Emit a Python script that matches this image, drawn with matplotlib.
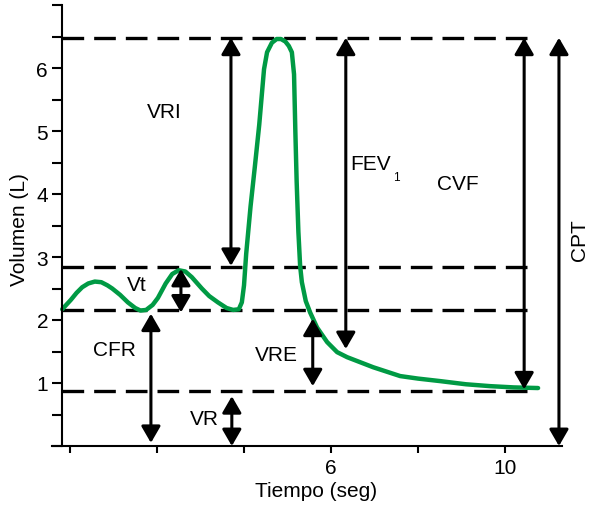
import numpy as np
import matplotlib
matplotlib.use("Agg")
import matplotlib.pyplot as plt

plt.rcParams['font.family'] = ['Liberation Sans Narrow', 'Liberation Sans', 'DejaVu Sans']

# spirometry trace (time in s, volume in L)
tiempo = [-0.18, 0.02, 0.15, 0.28, 0.42, 0.57, 0.72, 0.86, 0.97, 1.15, 1.33, 1.50,
          1.62, 1.75, 1.90, 2.02, 2.20, 2.35, 2.50, 2.65, 2.80, 3.03, 3.20, 3.40,
          3.60, 3.75, 3.88, 3.95, 4.00, 4.05, 4.15, 4.25, 4.35, 4.46, 4.53, 4.64,
          4.75, 4.85, 4.95, 5.03, 5.10, 5.15, 5.18, 5.21, 5.25, 5.29, 5.33, 5.42,
          5.52, 5.68, 5.91, 6.14, 6.37, 6.97, 7.59, 8.00, 8.51, 9.10, 9.66, 10.20,
          10.76]
volumen = [2.17, 2.32, 2.43, 2.52, 2.58, 2.61, 2.60, 2.55, 2.50, 2.40, 2.28, 2.19,
           2.15, 2.16, 2.24, 2.35, 2.58, 2.73, 2.79, 2.77, 2.68, 2.50, 2.38, 2.28,
           2.19, 2.16, 2.17, 2.28, 2.55, 3.05, 3.80, 4.44, 5.10, 5.98, 6.25, 6.40,
           6.46, 6.46, 6.42, 6.35, 6.25, 5.90, 5.00, 4.20, 3.40, 2.86, 2.60, 2.30,
           2.12, 1.88, 1.65, 1.49, 1.41, 1.25, 1.11, 1.07, 1.03, 0.98, 0.95, 0.93,
           0.92]

# dashed reference levels
niveles = [6.48, 2.84, 2.16, 0.87]

# double arrows: x position, bottom, top
flecha_x = [3.70, 2.55, 1.86, 3.72, 5.58, 6.34, 10.44, 11.24]
flecha_y0 = [2.86, 2.12, 0.05, 0.00, 0.95, 1.54, 0.90, 0.00]
flecha_y1 = [6.48, 2.81, 2.10, 0.79, 2.02, 6.48, 6.48, 6.48]

# labels and their centres
etiquetas = ['VRI', 'Vt', 'CFR', 'VR', 'VRE', 'CVF']
etiq_x = [2.16, 1.54, 1.01, 3.10, 4.74, 8.92]
etiq_y = [5.31, 2.56, 1.53, 0.43, 1.46, 4.17]

fig = plt.figure(figsize=(5.89, 5.06), dpi=100)
ax = fig.add_axes([52/589, 59/506, 510/589, 441/506])
ax.set_xlim(-0.414, 11.31)
ax.set_ylim(0, 7)

for lv in niveles:
    ax.plot([-0.18, 10.57], [lv, lv], color='black', lw=2.4,
            dashes=(6.5, 3), solid_capstyle='butt', dash_capstyle='butt')

ax.plot(tiempo, volumen, color='#009a44', lw=3.2, solid_joinstyle='round',
        solid_capstyle='round')

for x, y0, y1 in zip(flecha_x, flecha_y0, flecha_y1):
    ax.annotate('', xy=(x, y1), xytext=(x, y0), annotation_clip=False,
                arrowprops=dict(arrowstyle='<|-|>,head_length=1.0,head_width=0.58',
                                mutation_scale=10, color='black', lw=2.2,
                                shrinkA=0, shrinkB=0))

for s, x, y in zip(etiquetas, etiq_x, etiq_y):
    ax.text(x, y, s, fontsize=15, ha='center', va='center')
ax.text(6.45, 4.49, 'FEV', fontsize=15, ha='left', va='center')
ax.text(7.50, 4.27, '1', fontsize=8.5, ha='center', va='center')
ax.text(11.72, 3.29, 'CPT', fontsize=15, rotation=90, ha='center', va='center')

# axes styling
for s in ['top', 'right']:
    ax.spines[s].set_visible(False)
ax.spines['left'].set_position(('data', -0.184))
ax.spines['left'].set_linewidth(1.5)
ax.spines['bottom'].set_linewidth(1.5)

ax.set_yticks(np.arange(0, 8))
ax.set_yticklabels(['', '1', '2', '3', '4', '5', '6', ''])
ax.set_yticks(np.arange(0.5, 7, 1.0), minor=True)
ax.tick_params(axis='y', which='both', direction='out', length=7, width=1.5,
               labelsize=15, pad=3)
ax.set_xticks([0, 2, 4, 6, 8, 10])
ax.set_xticklabels(['', '', '', '6', '', '10'])
ax.tick_params(axis='x', direction='out', length=5, width=1.5, labelsize=15, pad=4)

fig.text(20/589, 1 - 230/506, 'Volumen (L)', fontsize=15, rotation=90,
         ha='center', va='center')
fig.text(316/589, 1 - 492/506, 'Tiempo (seg)', fontsize=15, ha='center', va='center')

fig.savefig('out.png', dpi=100)
